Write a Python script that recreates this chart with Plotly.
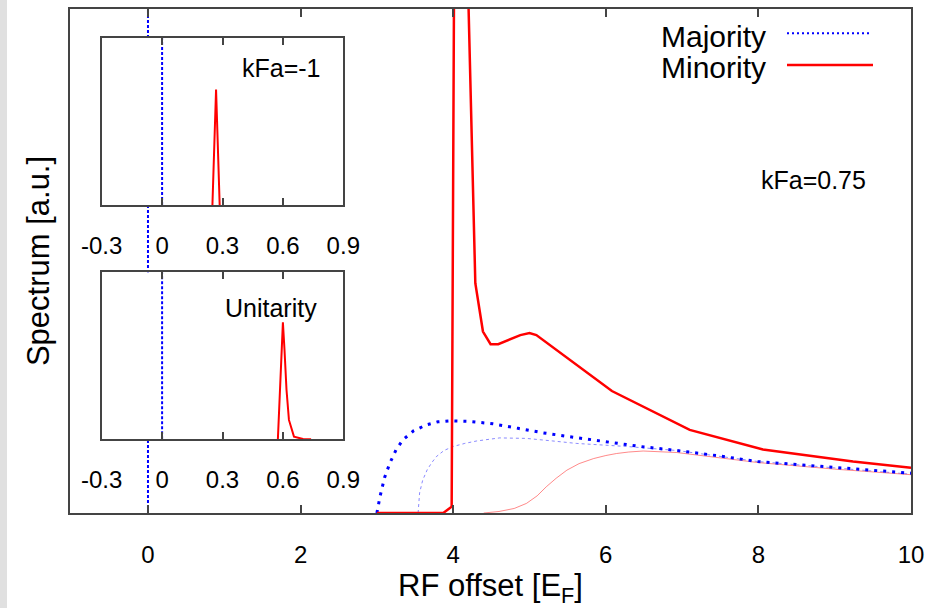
import plotly.graph_objects as go

# ---------------- data ----------------
# main panel (kFa = 0.75)
maj_x = [3.0, 3.04, 3.1, 3.17, 3.25, 3.34, 3.48, 3.65, 3.8, 3.96, 4.2, 4.52, 4.85, 5.18, 5.5, 5.83, 6.45, 6.93, 7.5, 7.99, 9.0, 10.0]
maj_y = [0.0, 0.032, 0.07, 0.099, 0.125, 0.145, 0.163, 0.175, 0.181, 0.183, 0.182, 0.177, 0.168, 0.159, 0.152, 0.145, 0.132, 0.124, 0.113, 0.102, 0.09, 0.079]

maj_free_x = [3.54, 3.56, 3.6, 3.66, 3.72, 3.78, 3.88, 4.0, 4.15, 4.31, 4.61, 4.96, 5.3, 5.62, 6.27, 6.93, 8.0, 9.0, 10.0]
maj_free_y = [0.0, 0.04, 0.065, 0.086, 0.1, 0.112, 0.124, 0.132, 0.138, 0.143, 0.149, 0.148, 0.143, 0.138, 0.132, 0.124, 0.102, 0.089, 0.077]

min_x = [3.0, 3.87, 3.98, 4.04, 4.29, 4.39, 4.49, 4.59, 4.88, 5.0, 5.09, 6.08, 7.1, 8.06, 9.24, 10.0]
min_y = [0.0, 0.0, 0.0125, 2.0, 0.456, 0.36, 0.335, 0.335, 0.353, 0.357, 0.353, 0.242, 0.165, 0.126, 0.102, 0.09]

min_free_x = [4.4, 4.6, 4.8, 4.96, 5.1, 5.22, 5.35, 5.49, 5.65, 5.84, 6.0, 6.14, 6.3, 6.49, 6.93, 8.0, 9.0, 10.0]
min_free_y = [0.0, 0.003, 0.009, 0.019, 0.034, 0.052, 0.069, 0.085, 0.098, 0.108, 0.114, 0.118, 0.121, 0.123, 0.12, 0.1, 0.087, 0.076]

delta_x = [0.0, 0.0]
delta_y = [0.0, 1.0]

# inset: kFa = -1
in1_min_x = [0.25, 0.268, 0.286]
in1_min_y = [0.0, 0.69, 0.0]
# inset: unitarity
in2_min_x = [0.575, 0.6, 0.608, 0.618, 0.63, 0.655, 0.7, 0.74]
in2_min_y = [0.0, 0.70, 0.535, 0.295, 0.116, 0.016, 0.002, 0.0]

main_xticks = [0, 2, 4, 6, 8, 10]
inset_xticks = [-0.3, 0, 0.3, 0.6, 0.9]
inset_xtick_text = ["-0.3", "0", "0.3", "0.6", "0.9"]

# ---------------- figure ----------------
FONT = "Liberation Sans, Arial, sans-serif"
AX = "#444444"
BLUE = "#0000ff"
RED = "#ff0000"

fig = go.Figure()

# main panel
fig.add_trace(go.Scatter(x=delta_x, y=delta_y, mode="lines", line=dict(color=BLUE, width=2, dash="3px,2px"),
                         xaxis="x", yaxis="y", showlegend=False))
fig.add_trace(go.Scatter(x=maj_free_x, y=maj_free_y, mode="lines",
                         line=dict(color="rgba(60,60,255,0.6)", width=1, dash="3px,3px"),
                         xaxis="x", yaxis="y", showlegend=False))
fig.add_trace(go.Scatter(x=min_free_x, y=min_free_y, mode="lines",
                         line=dict(color="rgba(255,60,60,0.6)", width=1),
                         xaxis="x", yaxis="y", showlegend=False))
fig.add_trace(go.Scatter(x=maj_x, y=maj_y, mode="lines", line=dict(color=BLUE, width=3, dash="3px,6px"),
                         xaxis="x", yaxis="y", showlegend=False, name="Majority"))
fig.add_trace(go.Scatter(x=min_x, y=min_y, mode="lines", line=dict(color=RED, width=2.5),
                         xaxis="x", yaxis="y", showlegend=False, name="Minority"))

# inset 1
fig.add_trace(go.Scatter(x=delta_x, y=delta_y, mode="lines", line=dict(color=BLUE, width=2, dash="3px,2px"),
                         xaxis="x2", yaxis="y2", showlegend=False))
fig.add_trace(go.Scatter(x=in1_min_x, y=in1_min_y, mode="lines", line=dict(color=RED, width=2),
                         xaxis="x2", yaxis="y2", showlegend=False))
# inset 2
fig.add_trace(go.Scatter(x=delta_x, y=delta_y, mode="lines", line=dict(color=BLUE, width=2, dash="3px,2px"),
                         xaxis="x3", yaxis="y3", showlegend=False))
fig.add_trace(go.Scatter(x=in2_min_x, y=in2_min_y, mode="lines", line=dict(color=RED, width=2),
                         xaxis="x3", yaxis="y3", showlegend=False))

W, H = 944, 608
L, R, T, B = 70, 911, 9, 513


def px(xp):
    return (xp - L) / (R - L)


def py(yp):
    return (B - yp) / (B - T)


main_x = dict(range=[-1.022, 10], tickvals=main_xticks, ticks="inside", ticklen=8, tickwidth=1.5,
              tickcolor=AX, showline=True, linecolor=AX, linewidth=2, mirror="allticks",
              showgrid=False, zeroline=False, tickfont=dict(family=FONT, size=24, color="black"),
              ticklabelstandoff=19, automargin=False)
main_y = dict(range=[0, 1], showticklabels=False, ticks="", showline=True, linecolor=AX, linewidth=2,
              mirror=True, showgrid=False, zeroline=False, automargin=False,
              title=dict(text="Spectrum [a.u.]", font=dict(family=FONT, size=31, color="black"), standoff=9))


def inset_x(dom, anchor):
    return dict(domain=dom, anchor=anchor, range=[-0.3, 0.9], tickvals=inset_xticks, ticktext=inset_xtick_text,
                ticks="inside", ticklen=7, tickwidth=1.5, tickcolor=AX, showline=True, linecolor=AX,
                linewidth=2, mirror="allticks", showgrid=False, zeroline=False, automargin=False,
                tickfont=dict(family=FONT, size=24, color="black"), ticklabelstandoff=18)


def inset_y(dom, anchor):
    return dict(domain=dom, anchor=anchor, range=[0, 1], showticklabels=False, ticks="", showline=True,
                linecolor=AX, linewidth=2, mirror=True, showgrid=False, zeroline=False, automargin=False)


ix = [px(101.7), px(343.3)]
fig.update_layout(
    width=W, height=H,
    margin=dict(l=L, r=W - R, t=T, b=H - B, pad=0, autoexpand=False),
    paper_bgcolor="white", plot_bgcolor="white",
    showlegend=False,
    xaxis=main_x, yaxis=main_y,
    xaxis2=inset_x(ix, "y2"), yaxis2=inset_y([py(205), py(37.7)], "x2"),
    xaxis3=inset_x(ix, "y3"), yaxis3=inset_y([py(439.3), py(272.3)], "x3"),
)

annots = [
    dict(text="Majority", x=px(768), y=py(36), xanchor="right", yanchor="middle", size=30),
    dict(text="Minority", x=px(768), y=py(67), xanchor="right", yanchor="middle", size=30),
    dict(text="kFa=0.75", x=px(868), y=py(180), xanchor="right", yanchor="middle", size=25),
    dict(text="kFa=-1", x=px(323), y=py(68), xanchor="right", yanchor="middle", size=25),
    dict(text="Unitarity", x=px(319), y=py(308), xanchor="right", yanchor="middle", size=25),
    dict(text="RF offset [E<sub>F</sub>]", x=px(490.5), y=py(587.5), xanchor="center", yanchor="middle", size=31),
]
for a in annots:
    fig.add_annotation(text=a["text"], x=a["x"], y=a["y"], xref="paper", yref="paper", xanchor=a["xanchor"],
                       yanchor=a["yanchor"], showarrow=False, font=dict(family=FONT, size=a["size"], color="black"))

# legend samples (gnuplot style: text then line) and grey left band
fig.add_shape(type="line", xref="paper", yref="paper", x0=px(787), x1=px(871), y0=py(33.3), y1=py(33.3),
              line=dict(color=BLUE, width=2, dash="2px,3px"))
fig.add_shape(type="line", xref="paper", yref="paper", x0=px(787), x1=px(873), y0=py(65), y1=py(65),
              line=dict(color=RED, width=2.5))
fig.add_shape(type="rect", xref="paper", yref="paper", x0=px(0), x1=px(7), y0=py(H), y1=py(0),
              line=dict(width=0), fillcolor="#e0e0e0", layer="below")

fig.write_html("out.html")
